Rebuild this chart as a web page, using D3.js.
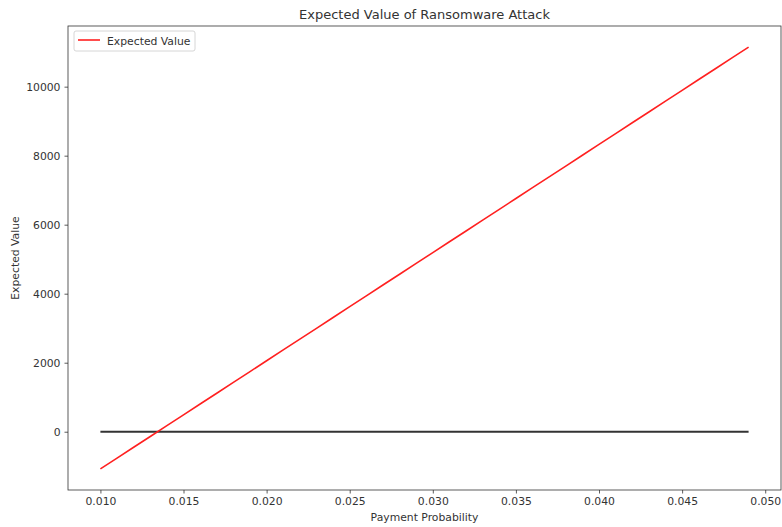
<!DOCTYPE html>
<html>
<head>
<meta charset="utf-8">
<script src="https://cdn.jsdelivr.net/npm/d3@7"></script>
<style>
  body { margin: 0; background: #fff; }
  text { font-family: "DejaVu Sans", sans-serif; fill: #333; }
</style>
</head>
<body>
<div id="chart"></div>
<script>
// payment probabilities 0.010 .. 0.049
const probabilities = [0.010, 0.011, 0.012, 0.013, 0.014, 0.015, 0.016, 0.017, 0.018, 0.019,
  0.020, 0.021, 0.022, 0.023, 0.024, 0.025, 0.026, 0.027, 0.028, 0.029,
  0.030, 0.031, 0.032, 0.033, 0.034, 0.035, 0.036, 0.037, 0.038, 0.039,
  0.040, 0.041, 0.042, 0.043, 0.044, 0.045, 0.046, 0.047, 0.048, 0.049];
const expectedValues = [-1078, -765, -451, -138, 176, 489, 803, 1116, 1430, 1743,
  2057, 2370, 2684, 2997, 3310, 3624, 3937, 4251, 4564, 4878,
  5191, 5505, 5818, 6132, 6445, 6759, 7072, 7385, 7699, 8012,
  8326, 8639, 8953, 9266, 9580, 9893, 10207, 10520, 10834, 11147];
const zeroLine = probabilities.map(() => 0);
const xTicks = [0.010, 0.015, 0.020, 0.025, 0.030, 0.035, 0.040, 0.045, 0.050];
const yTicks = [0, 2000, 4000, 6000, 8000, 10000];

function init() {
  const margin = { top: 26, right: 1, bottom: 37, left: 68 };
  const width = 782 - margin.left - margin.right;
  const height = 527 - margin.top - margin.bottom;

  const x = d3.scaleLinear().domain([0.00805, 0.05095]).range([0, width]);
  const y = d3.scaleLinear().domain([-1689, 11758]).range([height, 0]);

  const svg = d3.select("#chart").append("svg")
      .attr("width", 782)
      .attr("height", 527);

  const chart = svg.append("g")
      .attr("transform", "translate(" + margin.left + "," + margin.top + ")");

  const xAxis = chart.append("g")
      .attr("transform", "translate(0," + height + ")")
      .call(d3.axisBottom(x).tickValues(xTicks).tickFormat(d3.format(".3f")).tickSizeOuter(0).tickSize(3.5).tickPadding(4));

  const yAxis = chart.append("g")
      .call(d3.axisLeft(y).tickValues(yTicks).tickFormat(d3.format("d")).tickSizeOuter(0).tickSize(3.5).tickPadding(4));

  [xAxis, yAxis].forEach(a => {
    a.select(".domain").remove();
    a.selectAll("line").attr("stroke", "#333").attr("stroke-width", 0.8);
    a.selectAll("text").style("font-size", "10.8px").style("font-family", "DejaVu Sans").attr("fill", "#333");
  });

  const line = d3.line().x((d, i) => x(probabilities[i])).y(d => y(d));

  chart.append("path")
      .datum(zeroLine)
      .attr("d", line)
      .attr("fill", "none")
      .attr("stroke", "#333")
      .attr("stroke-width", 2);

  chart.append("path")
      .datum(expectedValues)
      .attr("d", line)
      .attr("fill", "none")
      .attr("stroke", "#ff2020")
      .attr("stroke-width", 1.6);

  // frame
  chart.append("rect")
      .attr("width", width)
      .attr("height", height)
      .attr("fill", "none")
      .attr("stroke", "#333")
      .attr("stroke-width", 0.8);

  // legend
  const legend = chart.append("g").attr("transform", "translate(6,5)");
  legend.append("rect")
      .attr("width", 121).attr("height", 20).attr("rx", 2)
      .attr("fill", "#fff").attr("stroke", "#ccc").attr("stroke-width", 0.8);
  legend.append("line")
      .attr("x1", 4).attr("x2", 26).attr("y1", 9).attr("y2", 9)
      .attr("stroke", "#ff2020").attr("stroke-width", 1.6);
  legend.append("text")
      .attr("x", 33).attr("y", 13.5)
      .style("font-size", "10.8px")
      .text("Expected Value");

  svg.append("text")
      .attr("x", margin.left + width / 2).attr("y", 19)
      .attr("text-anchor", "middle")
      .style("font-size", "13px")
      .text("Expected Value of Ransomware Attack");

  svg.append("text")
      .attr("x", margin.left + width / 2).attr("y", 521)
      .attr("text-anchor", "middle")
      .style("font-size", "10.8px")
      .text("Payment Probability");

  svg.append("text")
      .attr("transform", "translate(19," + (margin.top + height / 2) + ") rotate(-90)")
      .attr("text-anchor", "middle")
      .style("font-size", "10.8px")
      .text("Expected Value");
}

window.onload = init;
</script>
</body>
</html>
